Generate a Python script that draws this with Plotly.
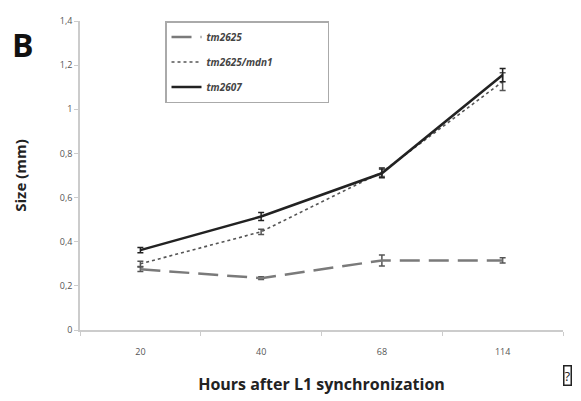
import plotly.graph_objects as go

hours = ["20", "40", "68", "114"]
tm2625 = [0.275, 0.235, 0.315, 0.315]
tm2625_err = [0.01, 0.006, 0.025, 0.012]
mdn1 = [0.30, 0.445, 0.715, 1.125]
mdn1_err = [0.012, 0.012, 0.02, 0.04]
tm2607 = [0.362, 0.514, 0.71, 1.155]
tm2607_err = [0.012, 0.018, 0.02, 0.03]
yticks = [0, 0.2, 0.4, 0.6, 0.8, 1.0, 1.2, 1.4]
yticktext = ["0", "0,2", "0,4", "0,6", "0,8", "1", "1,2", "1,4"]

pad = "&nbsp;" * 19
fig = go.Figure()
fig.add_trace(go.Scatter(
    x=hours, y=tm2625, name="<b><i>tm2625</i></b>" + pad, mode="lines", legendgroup="a",
    line=dict(color="#7a7a7a", width=2.5, dash="20px,9px"),
    error_y=dict(type="data", array=tm2625_err, color="#555", thickness=1.5, width=3)))
fig.add_trace(go.Scatter(
    x=hours, y=mdn1, name="<b><i>tm2625/mdn1</i></b>" + pad, mode="lines", legendgroup="b",
    line=dict(color="#555", width=1.6, dash="dot"),
    error_y=dict(type="data", array=mdn1_err, color="#555", thickness=1.5, width=3)))
fig.add_trace(go.Scatter(
    x=hours, y=tm2607, name="<b><i>tm2607</i></b>" + pad, mode="lines", legendgroup="c",
    line=dict(color="#222", width=2.5),
    error_y=dict(type="data", array=tm2607_err, color="#222", thickness=1.5, width=3)))

fig.update_layout(
    width=573, height=393,
    margin=dict(l=72, r=18, t=6, b=71),
    paper_bgcolor="white", plot_bgcolor="white",
    font=dict(family="Open Sans", color="#333"),
    showlegend=True,
    legend=dict(x=0.176, y=1.0, xanchor="left", yanchor="top",
                bordercolor="#aaa", borderwidth=1.5, bgcolor="white",
                font=dict(size=10, color="#444"), tracegroupgap=6),
    xaxis=dict(type="category", range=[-0.5, 3.5], showgrid=False,
               showline=True, linecolor="#ccc", linewidth=1.5,
               ticks="outside", tickson="boundaries", ticklen=4, tickcolor="#ccc",
               tickfont=dict(size=9, color="#555"), ticklabelstandoff=12,
               title=dict(text="<b>Hours after L1 synchronization</b>",
                          font=dict(size=16, color="#222"), standoff=22)),
    yaxis=dict(range=[0, 1.4], tickvals=yticks, ticktext=yticktext,
               showgrid=False, zeroline=False, showline=True,
               linecolor="#ccc", linewidth=1.5, ticks="outside", ticklen=4,
               tickcolor="#ccc", tickfont=dict(size=9, color="#555"),
               ticklabeloverflow="allow",
               title=dict(text="<b>Size (mm)</b>", font=dict(size=15, color="#222"),
                          standoff=30)),
)
fig.add_annotation(text="<b>B</b>", xref="paper", yref="paper", x=-0.145, y=1.0,
                   xanchor="left", yanchor="top", showarrow=False,
                   font=dict(size=32, color="#111", family="Open Sans"))
fig.add_annotation(text="?", xref="paper", yref="paper", x=1.0, y=-0.146,
                   xanchor="left", yanchor="middle", showarrow=False,
                   bordercolor="#222", borderwidth=1.5, borderpad=0,
                   font=dict(size=13, color="#222"))
fig.write_html("out.html")
